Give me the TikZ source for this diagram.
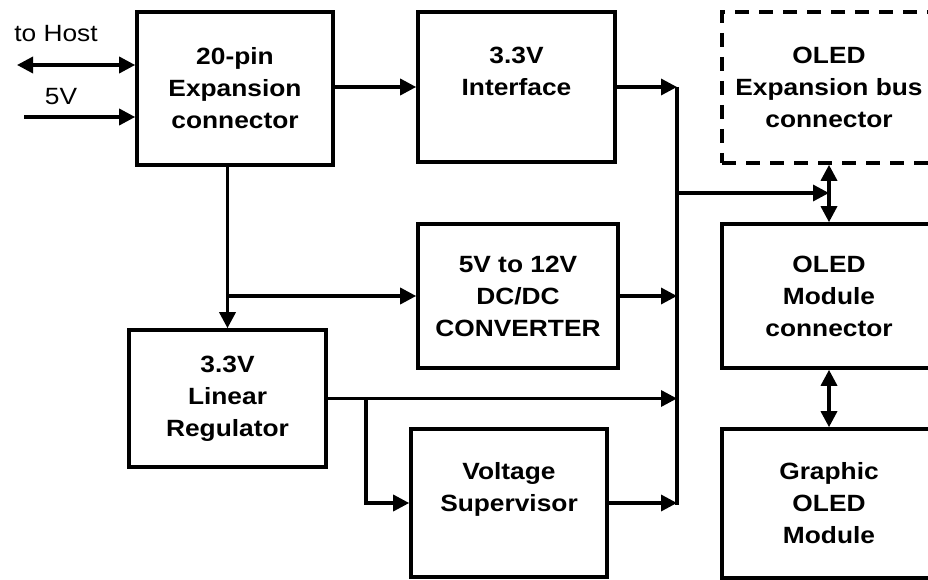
\documentclass[tikz,border=0pt]{standalone}
\usepackage{fontspec}
\setmainfont{Liberation Sans}[FakeStretch=1.12]
\usepackage{tikz}
\usetikzlibrary{arrows, arrows.meta}
\newcommand{\blockfont}{\fontsize{23.5}{32}\selectfont\bfseries}

\tikzset{
  block/.style={draw, line width=3.6pt, align=center, font=\blockfont, inner sep=0pt},
  dashblock/.style={block, dash pattern=on 14pt off 10pt},
  lbl/.style={font=\fontsize{23.5}{28}\selectfont, inner sep=0pt},
  wire/.style={line width=3.4pt},
  tip/.style={wire, -{Triangle[length=16pt, width=16pt]}},
  dtip/.style={wire, {Triangle[length=16pt, width=16pt]}-{Triangle[length=16pt, width=16pt]}}
}

\begin{document}
\begin{tikzpicture}[x=1pt, y=-1pt]
  \useasboundingbox (0,0) rectangle (928,580);

  % Coordinates
  \coordinate (host) at (17, 65);
  \coordinate (vin) at (24, 117);
  \coordinate (bustop) at (677, 87);
  \coordinate (busbot) at (677, 505);
  \coordinate (busout) at (677, 193);
  \coordinate (split) at (366, 399);

  % Blocks
  \node[block, minimum width=196pt, minimum height=153pt] (conn) at (235, 88.5) {20-pin\\Expansion\\connector};
  \node[block, minimum width=197pt, minimum height=150pt] (iface) at (516.5, 87) {3.3V\\Interface\\\mbox{}};
  \node[block, minimum width=200pt, minimum height=144pt] (dcdc) at (518, 296) {5V to 12V\\DC/DC\\CONVERTER};
  \node[block, minimum width=197pt, minimum height=137pt] (reg) at (227.5, 398.5) {3.3V\\Linear\\Regulator};
  \node[block, minimum width=196pt, minimum height=148pt] (sup) at (509, 503) {Voltage\\Supervisor\\\mbox{}};
  \node[dashblock, minimum width=214pt, minimum height=151pt] (oexp) at (829, 87.5) {OLED\\Expansion bus\\connector};
  \node[block, minimum width=214pt, minimum height=144pt] (omod) at (829, 296) {OLED\\Module\\connector};
  \node[block, minimum width=214pt, minimum height=149pt] (gmod) at (829, 503.5) {Graphic\\OLED\\Module};

  % Labels
  \node[lbl] (hostlbl) at (56, 34) {to Host};
  \node[lbl] (vinlbl) at (61, 97) {5V};

  % Drawing
  \draw[dtip] (host) -- (host -| conn.west);
  \draw[tip] (vin) -- (vin -| conn.west);
  \draw[tip] (conn.east |- iface.west) -- (iface.west);
  \draw[tip] (iface.east) -- (bustop);
  \draw[wire] (bustop) -- (busbot);
  \draw[tip] (conn.south -| reg.north) -- (reg.north);
  \draw[tip] (reg.north |- dcdc.west) -- (dcdc.west);
  \draw[tip] (dcdc.east) -- (dcdc.east -| bustop);
  \draw[tip] (reg.east) -- (reg.east -| bustop);
  \draw[tip] (split) |- (sup.west);
  \draw[tip] (sup.east) -- (sup.east -| bustop);
  \draw[tip] (busout) -- (busout -| omod.north);
  \draw[dtip] (oexp.south) -- (omod.north);
  \draw[dtip] (omod.south) -- (gmod.north);
\end{tikzpicture}
\end{document}
